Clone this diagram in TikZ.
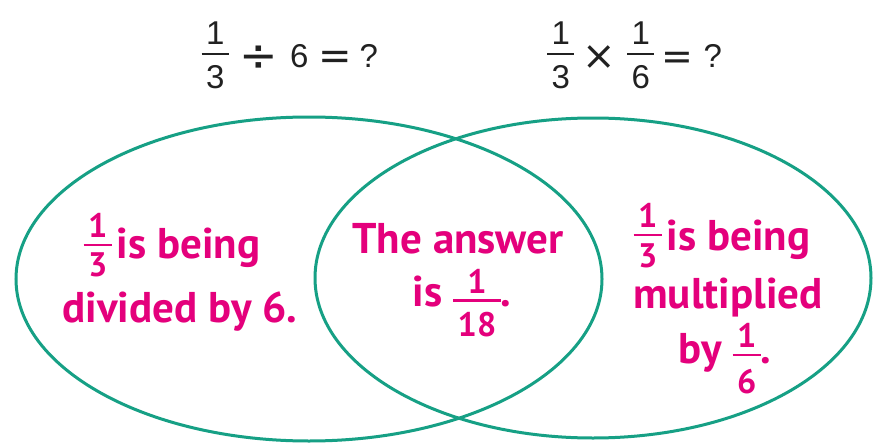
\documentclass[tikz,border=0pt]{standalone}
\usepackage{fontspec}
\setmainfont{PT Sans}
\newfontfamily\eqfont{Liberation Sans}
\newfontfamily\opfont{DejaVu Sans}
\definecolor{vteal}{RGB}{22,160,133}
\definecolor{vmag}{RGB}{228,0,124}
\newlength\frw
\newsavebox\frnum
\newsavebox\frden
% #1 font, #2 bar thickness, #3 gap above bar, #4 gap below bar, #5 bar centre height, #6 num, #7 den
\newcommand\gfr[7]{\begingroup#1%
 \sbox\frnum{#6}\sbox\frden{#7}%
 \setlength\frw{\wd\frnum}\ifdim\wd\frden>\frw \setlength\frw{\wd\frden}\fi
 \addtolength\frw{9pt}%
 \raisebox{\dimexpr #5-#2/2-#4-\ht\frden\relax}{\vbox{\offinterlineskip
   \hbox to\frw{\hss\usebox\frnum\hss}\vskip #3
   \hrule height #2 \vskip #4
   \hbox to\frw{\hss\usebox\frden\hss}}}%
 \endgroup}
% #1 bar centre height, #2 gap below bar, #3 num, #4 den
\newcommand\fr[4]{\gfr{\fontsize{34}{34}\selectfont\bfseries}{2.8pt}{6pt}{#2}{#1}{#3}{#4}}
\newcommand\efr[2]{\gfr{\fontsize{33}{33}\selectfont\eqfont}{2.4pt}{8pt}{10pt}{13pt}{#1}{#2}}
% #1 size, #2 shift, #3 glyph
\newcommand\op[3]{\raisebox{#2}{\fontsize{#1}{#1}\selectfont\opfont #3}}
\tikzset{
  venn/.style={draw=vteal,line width=3pt},
  lbl/.style={text=vmag,font=\fontsize{43}{43}\selectfont\bfseries,anchor=base,inner sep=0pt},
  eq/.style={text=black!87,font=\fontsize{33}{33}\selectfont\eqfont,anchor=base west,inner sep=0pt}
}
\begin{document}
\begin{tikzpicture}[x=1pt,y=-1pt]
\useasboundingbox (0,0) rectangle (873,444);
\fill[white] (0,0) rectangle (873,444);
\draw[venn] (309,279) ellipse [x radius=293, y radius=162];
\draw[venn] (593,278) ellipse [x radius=278, y radius=160];
\node[eq] (eqa) at (200,67) {\makebox[30pt]{\efr{1}{3}}\hspace{13pt}\makebox[32pt]{\op{46}{-5pt}{÷}}\hspace{15pt}\makebox[18pt]{6}\hspace{15pt}\makebox[24pt]{\op{40}{-2pt}{=}}\hspace{15pt}\makebox[13pt]{?}};
\node[eq] (eqb) at (546,67) {\makebox[29pt]{\efr{1}{3}}\hspace{13pt}\makebox[22pt]{\op{40}{-2pt}{×}}\hspace{16pt}\makebox[29pt]{\efr{1}{6}}\hspace{12pt}\makebox[20pt]{\op{38}{-2pt}{=}}\hspace{18pt}\makebox[15pt]{?}};
\node[lbl] (l1) at (172,258) {\fr{13pt}{6pt}{1}{3}\hspace{5pt}is being};
\node[lbl] (l2) at (180,322) {divided by 6.};
\node[lbl] (c1) at (458,253) {The answer};
\node[lbl] (c2) at (462,306) {is \fr{5.5pt}{10pt}{1}{18}.};
\node[lbl] (r1) at (722,250) {\fr{15pt}{7pt}{1}{3}\hspace{5pt}is being};
\node[lbl] (r2) at (728,308) {multiplied};
\node[lbl] (r3) at (725,363) {by \fr{8pt}{13pt}{1}{6}.};
\end{tikzpicture}
\end{document}
